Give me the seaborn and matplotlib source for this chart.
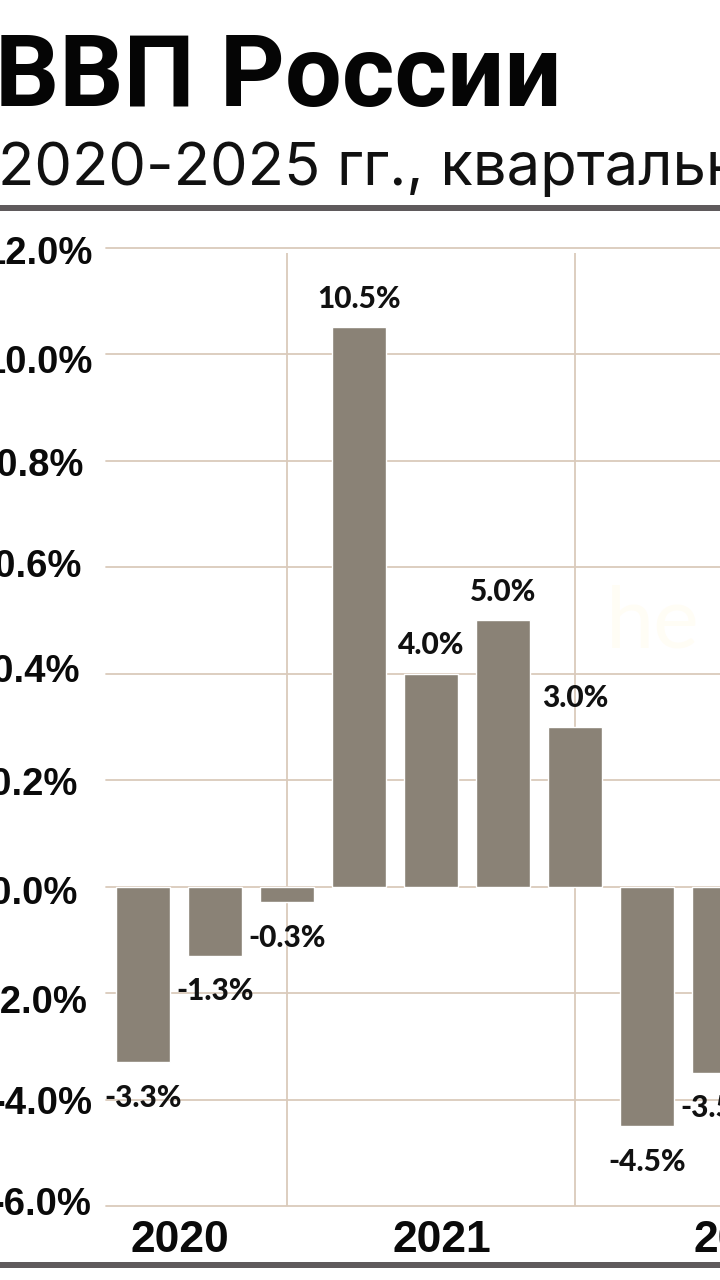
import matplotlib
matplotlib.use("Agg")
import matplotlib.pyplot as plt
from matplotlib.transforms import ScaledTranslation, blended_transform_factory
import pandas as pd
import seaborn as sns

quarters = ["2020 Q1", "2020 Q2", "2020 Q3", "2020 Q4",
            "2021 Q1", "2021 Q2", "2021 Q3", "2021 Q4", "2022 Q1"]
growth = [-3.3, -1.3, -0.3, 10.5, 4.0, 5.0, 3.0, -4.5, -3.5]
bar_labels = ["-3.3%", "-1.3%", "-0.3%", "10.5%", "4.0%", "5.0%", "3.0%", "-4.5%", "-3.5%"]
y_ticks = [12, 10, 8, 6, 4, 2, 0, -2, -4, -6]
y_labels = ["12.0%", "10.0%", "10.8%", "10.6%", "10.4%", "10.2%", "10.0%", "-2.0%", "-4.0%", "-6.0%"]
y_right_px = [93, 93, 84, 82, 80, 78, 78, 87, 93, 91]
y_shift_px = [7, 9, 5, 0, -1, 5, 7, 10, 4, -1]
years = ["2020", "2021", "2022"]
year_pos = [0.51, 4.15, 8.33]

W, H = 720, 1280
BAR = "#8a8276"
GRID = "#dacabb"
RULE = "#5f5a5c"

sns.set_theme(style="white")
fig = plt.figure(figsize=(W / 100, H / 100), dpi=100, facecolor="white")
ax = fig.add_axes([106 / W, 1 - 1206 / H, (W - 106) / W, (1206 - 247.5) / H])

df = pd.DataFrame({"quarter": quarters, "growth": growth})
sns.barplot(data=df, x="quarter", y="growth", color=BAR, saturation=1, width=0.76, ax=ax, zorder=3)

ax.set_xlim(-0.514, 8.014)
ax.set_ylim(-6, 12)
ax.set_xlabel("")
ax.set_ylabel("")
ax.set_xticks([])
for s in ax.spines.values():
    s.set_visible(False)

ax.set_yticks(y_ticks)
ax.set_yticklabels(y_labels, fontfamily="Liberation Sans", fontweight="bold", fontsize=27.5, color="#0a0a0a")
ax.tick_params(axis="y", length=0, pad=0)
for lab, right, dy in zip(ax.get_yticklabels(), y_right_px, y_shift_px):
    lab.set_ha("right")
    lab.set_va("center")
    lab.set_transform(lab.get_transform() + ScaledTranslation((right - 106) / 100, -dy / 100, fig.dpi_scale_trans))

for v in y_ticks:
    ax.axhline(v, color=GRID, lw=1.3, zorder=1, clip_on=False)
ax.vlines([2, 6], -6, 11.9, color=GRID, lw=1.3, zorder=1)

for i, (v, t) in enumerate(zip(growth, bar_labels)):
    off = 20.6 if v > 0 else -25.5
    ax.annotate(t, (i, v), xytext=(0, off), textcoords="offset points", ha="center", va="center",
                fontfamily="Lato", fontweight="black", fontsize=21.5, color="#111111", zorder=5)

trans = blended_transform_factory(ax.transData, fig.transFigure)
for yr, x in zip(years, year_pos):
    ax.text(x, 1 - 1241 / H, yr, transform=trans, ha="center", va="center", clip_on=False,
            fontfamily="Liberation Sans", fontweight="bold", fontsize=32, color="#0a0a0a")

fig.text(-5 / W, 1 - 106 / H, "ВВП России", ha="left", va="baseline", fontfamily="Roboto",
         fontweight="bold", fontsize=72.5, color="#050505")
fig.text(-2 / W, 1 - 185 / H, "2020-2025 гг., квартальные данные", ha="left", va="baseline",
         fontfamily="Inter", fontsize=43, color="#111111")
fig.text(606 / W, 1 - 647 / H, "he", ha="left", va="baseline", fontfamily="Lato",
         fontsize=62, color="#fffdf5", zorder=0)

for y0, y1 in [(205, 211), (1262, 1268)]:
    fig.add_artist(plt.Rectangle((0, 1 - y1 / H), 1, (y1 - y0) / H, transform=fig.transFigure,
                                 facecolor=RULE, edgecolor="none"))

fig.savefig("out.png", dpi=100)
